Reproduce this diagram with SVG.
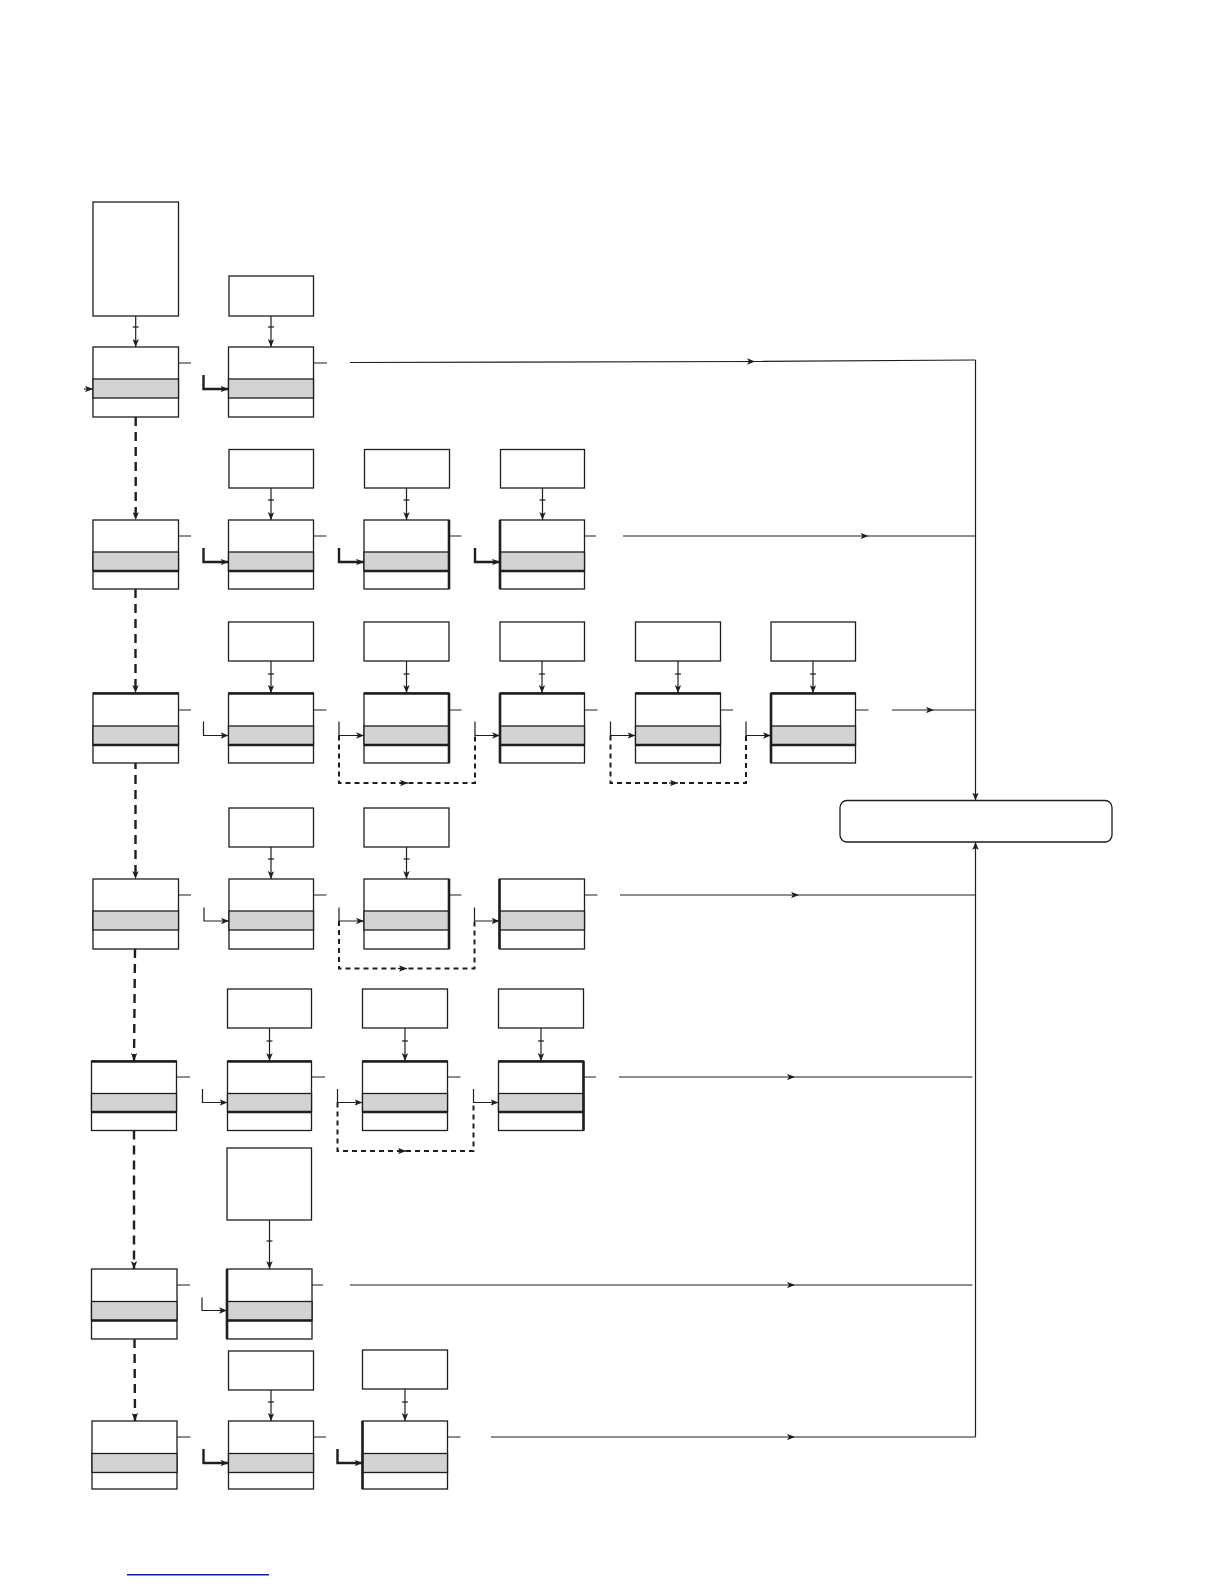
<svg xmlns="http://www.w3.org/2000/svg" width="1224" height="1584" viewBox="0 0 1224 1584">
<defs>
<marker id="ah" viewBox="0 0 10 8" markerWidth="8" markerHeight="6.4" refX="10" refY="4" orient="auto" markerUnits="userSpaceOnUse">
<path d="M0,0 L10,4 L0,8 L2.5,4 Z" fill="#1e1e1e"/>
</marker>
<style>
.box{fill:#fff;stroke:#1e1e1e;stroke-width:1.3}
.band{fill:#d3d3d3;stroke:#1e1e1e;stroke-width:1.3}
.thk{stroke:#1e1e1e;stroke-width:2.6;fill:none}
.ln{stroke:#1e1e1e;stroke-width:1.2;fill:none}
.arr{stroke:#1e1e1e;stroke-width:1.2;fill:none;marker-end:url(#ah)}
.arrT{stroke:#1e1e1e;stroke-width:2.4;fill:none;marker-end:url(#ah)}
.mid{stroke:#1e1e1e;stroke-width:1.2;fill:none;marker-mid:url(#ah)}
.dsh{stroke:#1e1e1e;stroke-width:2.4;fill:none;stroke-dasharray:9 6;marker-end:url(#ah)}
.loop{stroke:#1e1e1e;stroke-width:2;fill:none;stroke-dasharray:5 4}
</style>
</defs>
<rect width="1224" height="1584" fill="#fff"/>

<!-- Row 1 -->
<g id="r1-top0"><rect class="box" x="93" y="202" width="85.5" height="114"/></g>
<g id="r1-top1"><rect class="box" x="229" y="276" width="84.5" height="40"/></g>
<g id="r1-n0"><rect class="box" x="93" y="347" width="85.5" height="70"/><rect class="band" x="93" y="379" width="85.5" height="19"/></g>
<g id="r1-n1"><rect class="box" x="228.5" y="347" width="85" height="70"/><rect class="band" x="228.5" y="379" width="85" height="19"/></g>

<!-- Row 2 -->
<g id="r2-top1"><rect class="box" x="229" y="449.5" width="84.5" height="38.5"/></g>
<g id="r2-top2"><rect class="box" x="364.5" y="449.5" width="85" height="38.5"/></g>
<g id="r2-top3"><rect class="box" x="500.5" y="449.5" width="84" height="38.5"/></g>
<g id="r2-n0"><rect class="box" x="93" y="520" width="85.5" height="69"/><rect class="band" x="93" y="552" width="85.5" height="19"/><path class="thk" d="M93,571 H178.5"/></g>
<g id="r2-n1"><rect class="box" x="228.5" y="520" width="85" height="69"/><rect class="band" x="228.5" y="552" width="85" height="19"/><path class="thk" d="M228.5,571 H313.5"/></g>
<g id="r2-n2"><rect class="box" x="364" y="520" width="85" height="69"/><rect class="band" x="364" y="552" width="85" height="19"/><path class="thk" d="M364,571 H449 M449,520 V589"/></g>
<g id="r2-n3"><rect class="box" x="500" y="520" width="84.5" height="69"/><rect class="band" x="500" y="552" width="84.5" height="19"/><path class="thk" d="M500,571 H584.5 M500,520 V589"/></g>

<!-- Row 3 -->
<g id="r3-top1"><rect class="box" x="228.5" y="622" width="85" height="39"/></g>
<g id="r3-top2"><rect class="box" x="364" y="622" width="85" height="39"/></g>
<g id="r3-top3"><rect class="box" x="500" y="622" width="84.5" height="39"/></g>
<g id="r3-top4"><rect class="box" x="635.5" y="622" width="85" height="39"/></g>
<g id="r3-top5"><rect class="box" x="771" y="622" width="84.5" height="39"/></g>
<g id="r3-n0"><rect class="box" x="93" y="693" width="85.5" height="70"/><rect class="band" x="93" y="726" width="85.5" height="19"/><path class="thk" d="M93,745 H178.5 M93,693.5 H178.5"/></g>
<g id="r3-n1"><rect class="box" x="228.5" y="693" width="85" height="70"/><rect class="band" x="228.5" y="726" width="85" height="19"/><path class="thk" d="M228.5,745 H313.5 M228.5,693.5 H313.5"/></g>
<g id="r3-n2"><rect class="box" x="364" y="693" width="85" height="70"/><rect class="band" x="364" y="726" width="85" height="19"/><path class="thk" d="M364,745 H449 M364,693.5 H449 M449,693 V763"/></g>
<g id="r3-n3"><rect class="box" x="500" y="693" width="84.5" height="70"/><rect class="band" x="500" y="726" width="84.5" height="19"/><path class="thk" d="M500,745 H584.5 M500,693.5 H584.5 M500,693 V763"/></g>
<g id="r3-n4"><rect class="box" x="635.5" y="693" width="85" height="70"/><rect class="band" x="635.5" y="726" width="85" height="19"/><path class="thk" d="M635.5,745 H720.5 M635.5,693.5 H720.5"/></g>
<g id="r3-n5"><rect class="box" x="771" y="693" width="84.5" height="70"/><rect class="band" x="771" y="726" width="84.5" height="19"/><path class="thk" d="M771,745 H855.5 M771,693.5 H855.5 M771,693 V763"/></g>

<!-- Row 4 -->
<g id="r4-top1"><rect class="box" x="229" y="808" width="84.5" height="39"/></g>
<g id="r4-top2"><rect class="box" x="364" y="808" width="85" height="39"/></g>
<g id="r4-n0"><rect class="box" x="93" y="879" width="85.5" height="70"/><rect class="band" x="93" y="911" width="85.5" height="19"/></g>
<g id="r4-n1"><rect class="box" x="229" y="879" width="84.5" height="70"/><rect class="band" x="229" y="911" width="84.5" height="19"/></g>
<g id="r4-n2"><rect class="box" x="364" y="879" width="85" height="70"/><rect class="band" x="364" y="911" width="85" height="19"/><path class="thk" d="M449,879 V949"/></g>
<g id="r4-n3"><rect class="box" x="499.5" y="879" width="85" height="70"/><rect class="band" x="499.5" y="911" width="85" height="19"/><path class="thk" d="M499.5,879 V949"/></g>

<!-- Row 5 -->
<g id="r5-top1"><rect class="box" x="227.5" y="989" width="84" height="39"/></g>
<g id="r5-top2"><rect class="box" x="362.5" y="989" width="85" height="39"/></g>
<g id="r5-top3"><rect class="box" x="498.5" y="989" width="85" height="39"/></g>
<g id="r5-n0"><rect class="box" x="91.5" y="1061" width="85" height="69.5"/><rect class="band" x="91.5" y="1093.5" width="85" height="18.5"/><path class="thk" d="M91.5,1112 H176.5 M91.5,1061.5 H176.5"/></g>
<g id="r5-n1"><rect class="box" x="227.5" y="1061" width="84" height="69.5"/><rect class="band" x="227.5" y="1093.5" width="84" height="18.5"/><path class="thk" d="M227.5,1112 H311.5 M227.5,1061.5 H311.5"/></g>
<g id="r5-n2"><rect class="box" x="362.5" y="1061" width="85" height="69.5"/><rect class="band" x="362.5" y="1093.5" width="85" height="18.5"/><path class="thk" d="M362.5,1112 H447.5 M362.5,1061.5 H447.5"/></g>
<g id="r5-n3"><rect class="box" x="498.5" y="1061" width="85" height="69.5"/><rect class="band" x="498.5" y="1093.5" width="85" height="18.5"/><path class="thk" d="M498.5,1112 H583.5 M498.5,1061.5 H583.5 M583.5,1061 V1130.5"/></g>

<!-- Row 6 -->
<g id="r6-top1"><rect class="box" x="227" y="1148" width="84.5" height="72"/></g>
<g id="r6-n0"><rect class="box" x="91.5" y="1269" width="85.5" height="70"/><rect class="band" x="91.5" y="1301.5" width="85.5" height="19"/><path class="thk" d="M91.5,1320.5 H177"/></g>
<g id="r6-n1"><rect class="box" x="227" y="1269" width="85" height="70"/><rect class="band" x="227" y="1301.5" width="85" height="19"/><path class="thk" d="M227,1320.5 H312 M227,1269 V1339"/></g>

<!-- Row 7 -->
<g id="r7-top1"><rect class="box" x="228.5" y="1351" width="85" height="39"/></g>
<g id="r7-top2"><rect class="box" x="362.5" y="1350" width="85" height="39"/></g>
<g id="r7-n0"><rect class="box" x="92" y="1421" width="85" height="68"/><rect class="band" x="92" y="1453.5" width="85" height="19"/></g>
<g id="r7-n1"><rect class="box" x="228.5" y="1421" width="85" height="68"/><rect class="band" x="228.5" y="1453.5" width="85" height="19"/></g>
<g id="r7-n2"><rect class="box" x="362.5" y="1421" width="85" height="68"/><rect class="band" x="362.5" y="1453.5" width="85" height="19"/><path class="thk" d="M362.5,1421 V1489"/></g>

<!-- Final node -->
<g id="sink"><rect class="box" x="840" y="800.5" width="272" height="41.5" rx="7" ry="7"/></g>

<g id="connectors">
<!-- top-box to node connectors with ticks -->
<path class="arr" d="M135.7,316 V347"/><path class="ln" d="M132.7,327 H138.7"/>
<path class="arr" d="M271,316 V347"/><path class="ln" d="M268,327 H274"/>

<path class="arr" d="M271,488 V520"/><path class="ln" d="M268,500 H274"/>
<path class="arr" d="M406.5,488 V520"/><path class="ln" d="M403.5,500 H409.5"/>
<path class="arr" d="M542.5,488 V520"/><path class="ln" d="M539.5,500 H545.5"/>

<path class="arr" d="M271,661 V693"/><path class="ln" d="M268,674 H274"/>
<path class="arr" d="M406.5,661 V693"/><path class="ln" d="M403.5,674 H409.5"/>
<path class="arr" d="M542,661 V693"/><path class="ln" d="M539,674 H545"/>
<path class="arr" d="M678,661 V693"/><path class="ln" d="M675,674 H681"/>
<path class="arr" d="M813,661 V693"/><path class="ln" d="M810,674 H816"/>

<path class="arr" d="M271,847 V879"/><path class="ln" d="M268,859 H274"/>
<path class="arr" d="M406.5,847 V879"/><path class="ln" d="M403.5,859 H409.5"/>

<path class="arr" d="M269.5,1028 V1061"/><path class="ln" d="M266.5,1041 H272.5"/>
<path class="arr" d="M405,1028 V1061"/><path class="ln" d="M402,1041 H408"/>
<path class="arr" d="M541,1028 V1061"/><path class="ln" d="M538,1041 H544"/>

<path class="arr" d="M269.5,1220 V1269"/><path class="ln" d="M266.5,1241 H272.5"/>

<path class="arr" d="M271,1390 V1421"/><path class="ln" d="M268,1402 H274"/>
<path class="arr" d="M405,1389 V1421"/><path class="ln" d="M402,1402 H408"/>

<!-- right stubs -->
<path class="ln" d="M178.5,363 H191 M313.5,363 H327"/>
<path class="ln" d="M178.5,536 H191 M313.5,536 H326.5 M449,536 H461.5 M584.5,536 H596"/>
<path class="ln" d="M178.5,710 H191 M313.5,710 H326.5 M449,710 H461.5 M584.5,710 H597.5 M720.5,710 H733 M855.5,710 H868.5"/>
<path class="ln" d="M178.5,895 H191 M313.5,895 H326.5 M449,895 H461.5 M584.5,895 H597.5"/>
<path class="ln" d="M176.5,1077 H190 M311.5,1077 H325 M447.5,1077 H460.5 M583.5,1077 H596"/>
<path class="ln" d="M177,1285 H190 M312,1285 H323"/>
<path class="ln" d="M177,1437 H190.5 M313.5,1437 H326 M447.5,1437 H460.5"/>

<!-- elbow inputs -->
<path class="arr" d="M84,389 H93"/>
<path class="arrT" d="M203.5,375 V389 H228.5"/>
<path class="arrT" d="M203.5,548 V562 H228.5"/>
<path class="arrT" d="M339,548 V562 H364"/>
<path class="arrT" d="M475,548 V562 H500"/>
<path class="arr" d="M203.5,721.5 V735.5 H228.5"/>
<path class="arr" d="M339,721.5 V735.5 H364"/>
<path class="arr" d="M475,721.5 V735.5 H500"/>
<path class="arr" d="M610.5,721.5 V735.5 H635.5"/>
<path class="arr" d="M746,721.5 V735.5 H771"/>
<path class="arr" d="M204,907.5 V921 H229"/>
<path class="arr" d="M339,907.5 V921 H364"/>
<path class="arr" d="M474.5,907.5 V921 H499.5"/>
<path class="arr" d="M202.5,1089 V1102.5 H227.5"/>
<path class="arr" d="M337.5,1089 V1102.5 H362.5"/>
<path class="arr" d="M473.5,1089 V1102.5 H498.5"/>
<path class="arr" d="M202,1297.5 V1310.5 H227"/>
<path class="arrT" d="M203.5,1449 V1463 H228.5"/>
<path class="arrT" d="M337.5,1449 V1463 H362.5"/>

<!-- dashed loops -->
<path class="loop" d="M339,735.5 V783 H475 V735.5"/><path class="arr" d="M399,783 H408"/>
<path class="loop" d="M610.5,735.5 V783 H746 V735.5"/><path class="arr" d="M669,783 H678"/>
<path class="loop" d="M339,921 V968.5 H474.5 V921"/><path class="arr" d="M398,968.5 H407"/>
<path class="loop" d="M337.5,1102.5 V1151 H473.5 V1102.5"/><path class="arr" d="M397,1151 H406"/>

<!-- dashed vertical chain -->
<path class="dsh" d="M135.7,417 V520"/>
<path class="dsh" d="M135.5,589 V693"/>
<path class="dsh" d="M135.5,763 V879" stroke-dashoffset="-12"/>
<path class="dsh" d="M135,949 L134,1061"/>
<path class="dsh" d="M134,1130.5 V1269"/>
<path class="dsh" d="M134.5,1339 L135,1421"/>

<!-- long lines to collector -->
<path class="mid" d="M350,362.5 L755,361.5 L975.5,360"/>
<path class="mid" d="M623,536 L868.5,536 L975.5,536"/>
<path class="mid" d="M892,710 L934,710 L975.5,710"/>
<path class="mid" d="M620,895 L799,895 L975.5,895"/>
<path class="mid" d="M619,1077 L795,1077 L972.5,1077"/>
<path class="mid" d="M350,1285 L795,1285 L972.5,1285"/>
<path class="mid" d="M491,1437 L795,1437 L975.5,1437"/>
<path class="arr" d="M975.5,360 V800.5"/>
<path class="arr" d="M975.5,1437 V842"/>
</g>

<path d="M127,1574.7 H269" stroke="#1a1aa0" stroke-width="1.4" fill="none"/>
</svg>
